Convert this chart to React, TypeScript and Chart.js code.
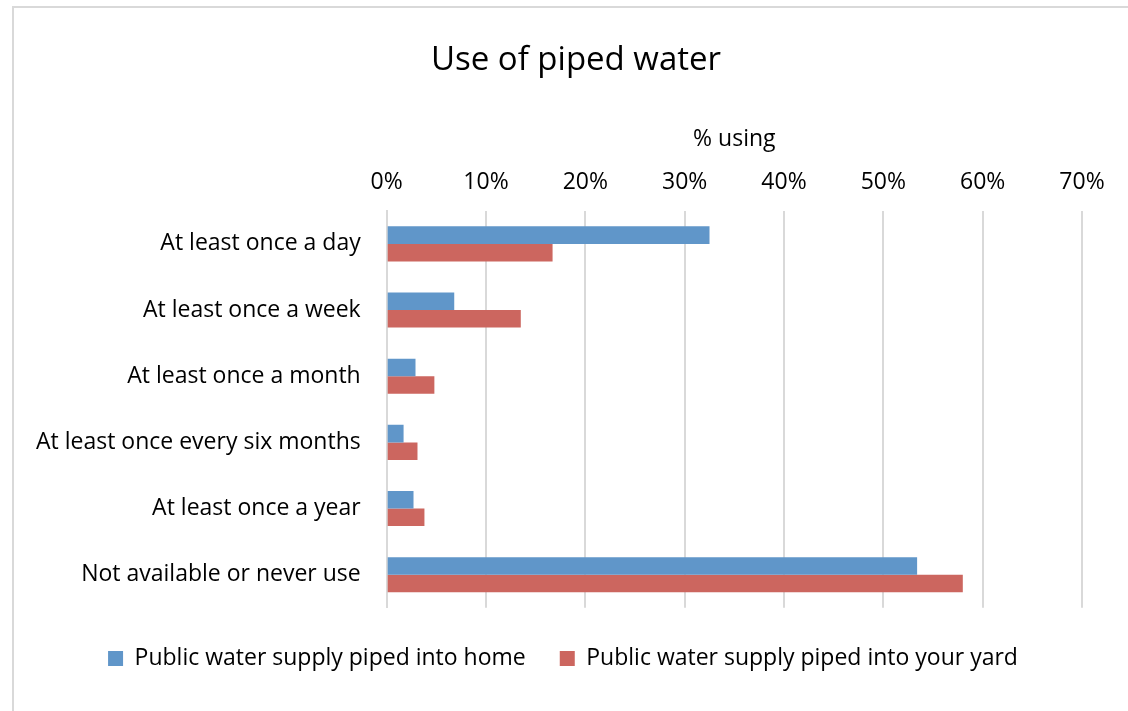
import React, { useEffect, useRef } from "react";
import { Chart, registerables } from "chart.js";

Chart.register(...registerables);

const categories = [
  "At least once a day",
  "At least once a week",
  "At least once a month",
  "At least once every six months",
  "At least once a year",
  "Not available or never use",
];
const homeValues = [32.5, 6.8, 2.9, 1.7, 2.7, 53.4];
const yardValues = [16.7, 13.5, 4.8, 3.1, 3.8, 58.0];
const seriesNames = ["Public water supply piped into home", "Public water supply piped into your yard"];
const xTicks = [0, 10, 20, 30, 40, 50, 60, 70];

const FONT = "'Open Sans', 'Noto Sans', sans-serif";
const FS = 23;

// Centre the title and legend on the chart frame rather than on the padded area
const centerOnFrame = {
  id: "centerOnFrame",
  afterLayout(chart: any) {
    if (chart.titleBlock) {
      chart.titleBlock.left = 14;
      chart.titleBlock.right = 1138;
    }
    if (chart.legend) {
      chart.legend.left = 14;
      chart.legend.right = 1112;
    }
  },
};

export default function App() {
  const ref = useRef<HTMLCanvasElement | null>(null);
  useEffect(() => {
    if (!ref.current) return;
    const chart = new Chart(ref.current, {
      type: "bar",
      data: {
        labels: categories,
        datasets: [
          { label: seriesNames[0], data: homeValues, backgroundColor: "#6096C9", borderWidth: 0 },
          { label: seriesNames[1], data: yardValues, backgroundColor: "#CC665F", borderWidth: 0 },
        ],
      },
      plugins: [centerOnFrame],
      options: {
        indexAxis: "y",
        responsive: false,
        animation: false,
        layout: { padding: { left: 10, right: 46, top: 35, bottom: 31 } },
        datasets: { bar: { categoryPercentage: 0.53, barPercentage: 1.0 } },
        plugins: {
          title: {
            display: true,
            text: "Use of piped water",
            color: "#000",
            font: { family: FONT, size: 33, weight: "normal" },
            padding: { top: 6, bottom: 45 },
          },
          legend: {
            position: "bottom",
            title: { display: true, text: "", font: { size: 1 }, padding: 2 },
            labels: {
              color: "#000",
              boxWidth: 15,
              boxHeight: 15,
              padding: 34,
              font: { family: FONT, size: FS },
            },
          },
          tooltip: { enabled: false },
        },
        scales: {
          x: {
            position: "top",
            min: 0,
            max: 70,
            afterBuildTicks: (axis: any) => {
              axis.ticks = xTicks.map((v) => ({ value: v }));
            },
            ticks: {
              color: "#000",
              font: { family: FONT, size: FS },
              padding: 15,
              callback: (v: any) => v + "%",
            },
            grid: { color: "#d9d9d9", lineWidth: 2, drawTicks: false },
            border: { display: false },
            title: {
              display: true,
              text: "% using",
              color: "#000",
              font: { family: FONT, size: FS },
              padding: { top: 0, bottom: 0 },
            },
          },
          y: {
            ticks: {
              color: "#000",
              font: { family: FONT, size: FS },
              padding: 26,
            },
            grid: { display: false, drawTicks: false },
            border: { display: true, color: "#d9d9d9", width: 2 },
          },
        },
      },
    });
    return () => chart.destroy();
  }, []);
  return (
    <div style={{ position: "fixed", left: 0, top: 0, width: 1128, height: 711, background: "#fff" }}>
      <div
        style={{
          position: "absolute",
          left: 12,
          top: 6,
          width: 1130,
          height: 720,
          border: "2px solid #d9d9d9",
          boxSizing: "border-box",
        }}
      />
      <canvas ref={ref} width={1128} height={711} style={{ position: "absolute", left: 0, top: 0 }} />
    </div>
  );
}
